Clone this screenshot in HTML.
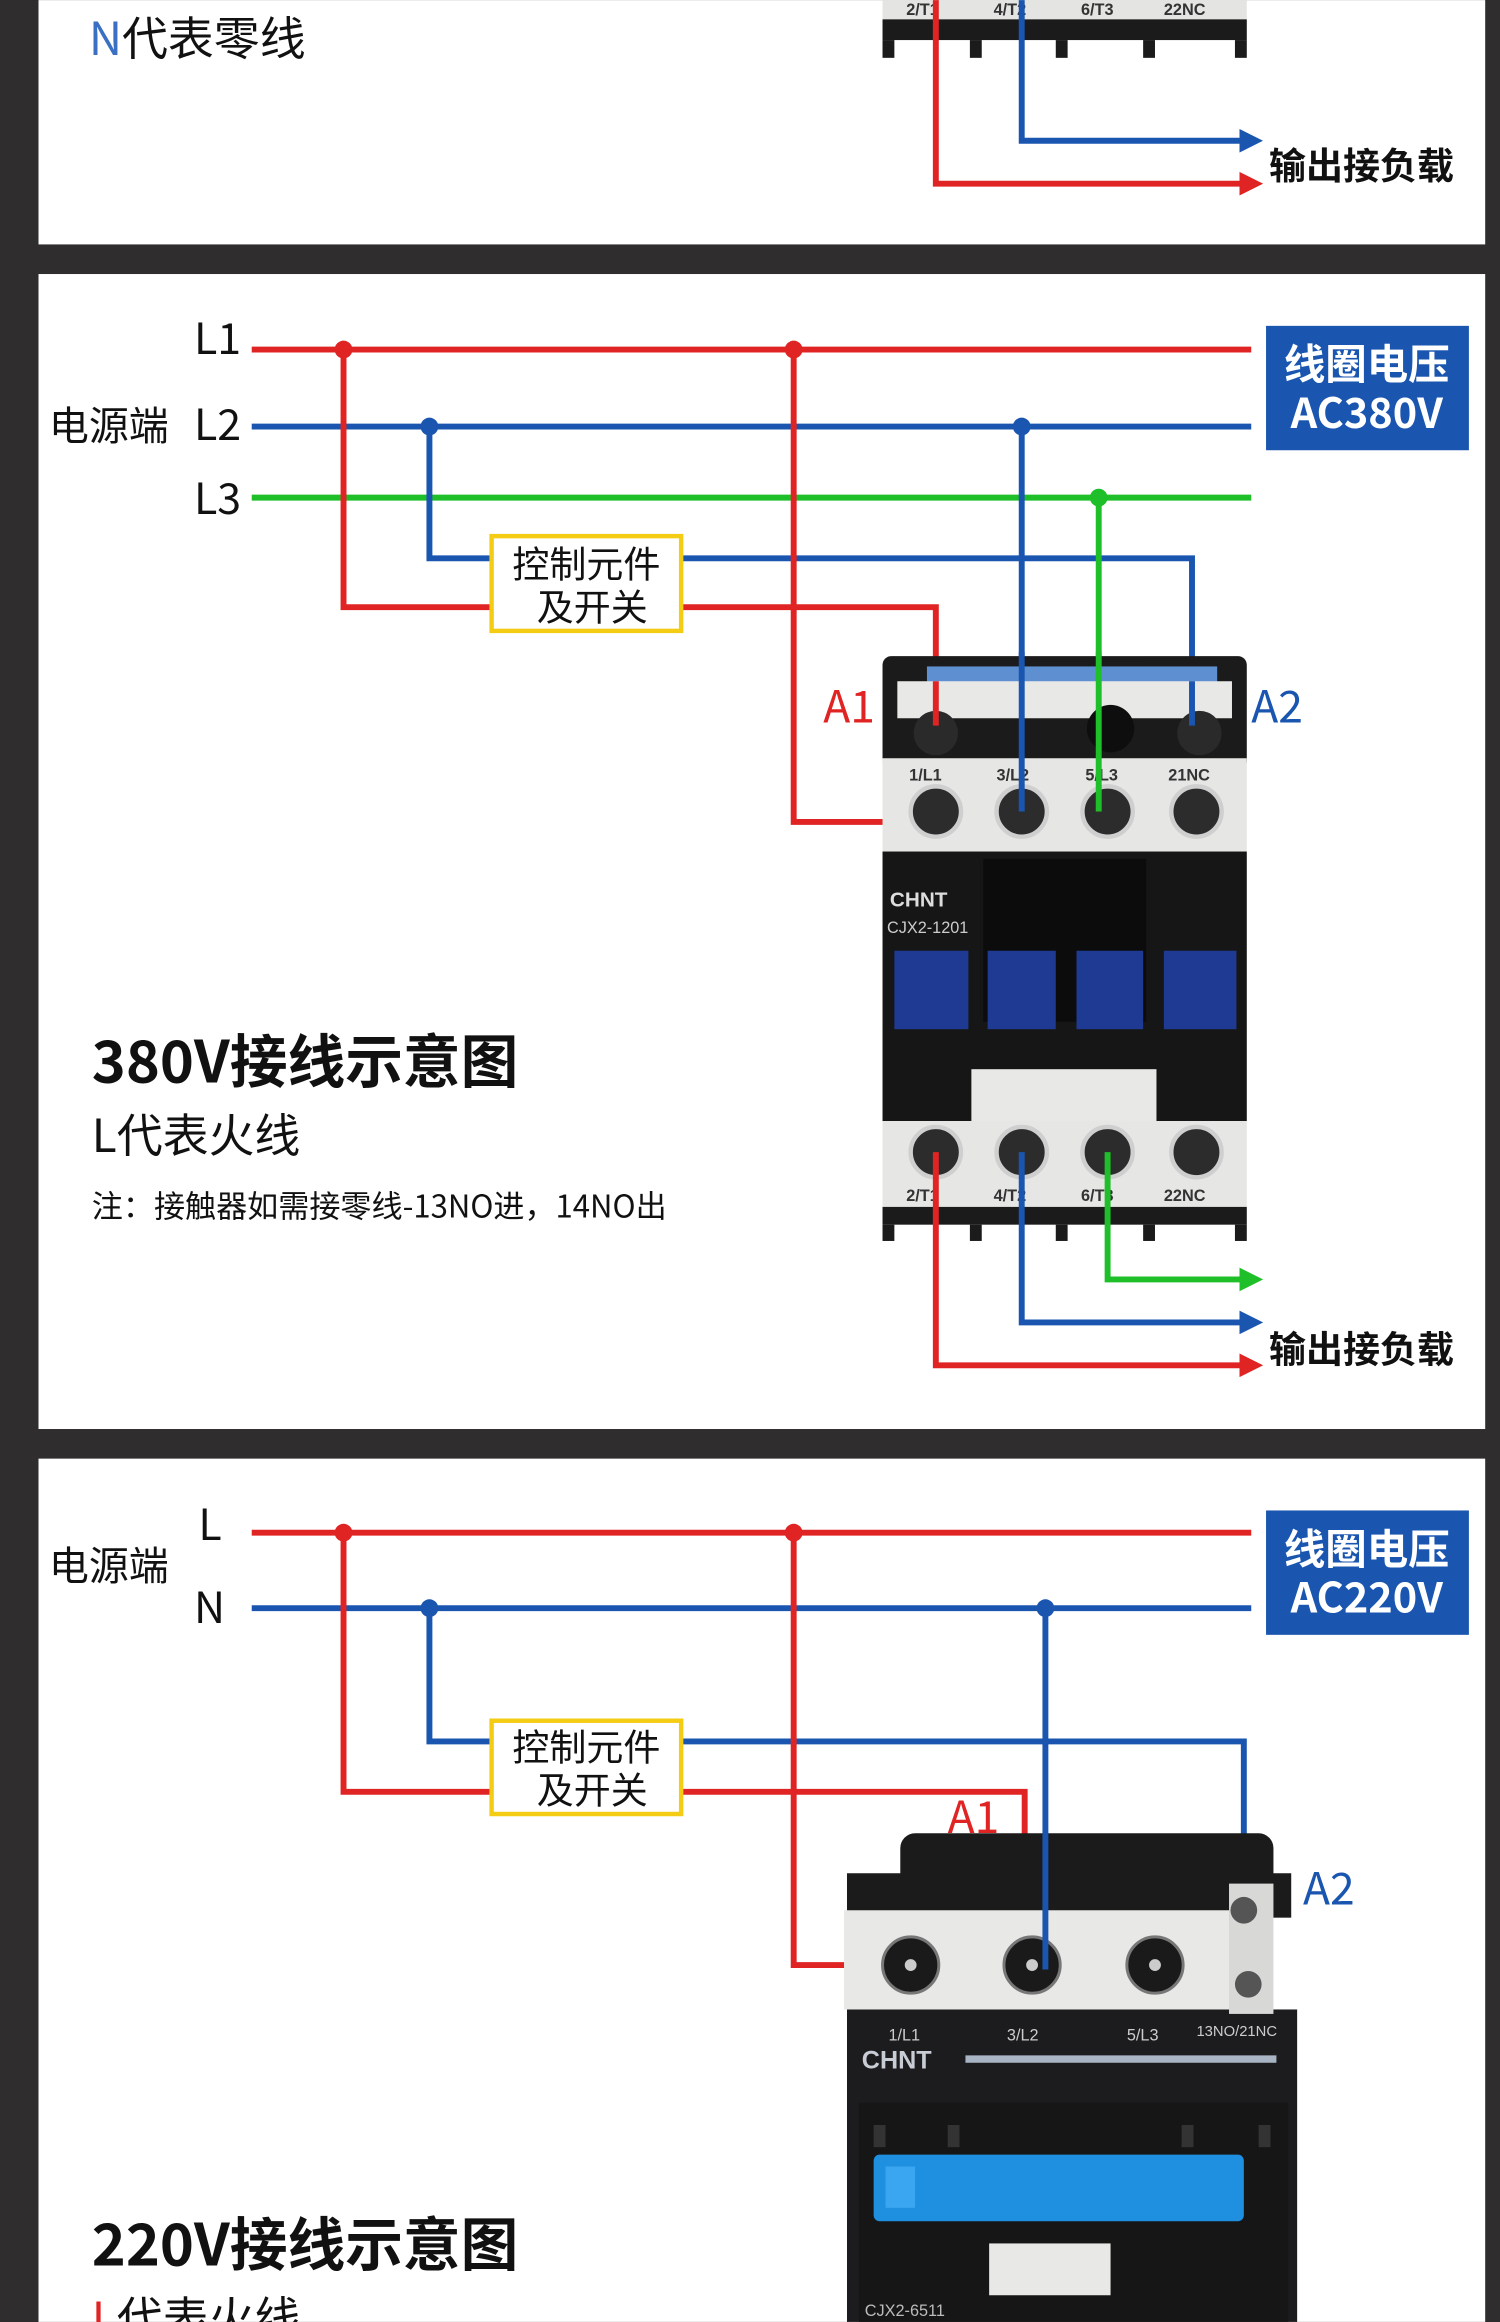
<!DOCTYPE html>
<html><head><meta charset="utf-8"><style>
html,body{margin:0;padding:0;background:#2f2d2d;}
svg{display:block;}
text{font-family:"Noto Sans CJK SC","Liberation Sans",sans-serif;}
.lat{font-family:"Liberation Sans","Noto Sans CJK SC",sans-serif;}
</style></head><body>
<svg width="1500" height="2322" viewBox="0 0 1013 1568" xmlns="http://www.w3.org/2000/svg">
<defs>
<marker id="ar" markerWidth="4" markerHeight="4" refX="2" refY="2" orient="auto" markerUnits="strokeWidth"><path d="M0,0 L4,2 L0,4z" fill="#e02424"/></marker>
<marker id="ab" markerWidth="4" markerHeight="4" refX="2" refY="2" orient="auto" markerUnits="strokeWidth"><path d="M0,0 L4,2 L0,4z" fill="#1a56b0"/></marker>
<marker id="ag" markerWidth="4" markerHeight="4" refX="2" refY="2" orient="auto" markerUnits="strokeWidth"><path d="M0,0 L4,2 L0,4z" fill="#1fbf2a"/></marker>
</defs>
<rect width="1013" height="1568" fill="#2f2d2d"/>
<rect x="26" y="0" width="977" height="165" fill="#fff"/>
<rect x="26" y="185" width="977" height="780" fill="#fff"/>
<rect x="26" y="985" width="977" height="583" fill="#fff"/>

<!-- panel 1 -->
<text x="60" y="37" font-size="31"><tspan fill="#3a6fc4">N</tspan><tspan fill="#111">代表零线</tspan></text>
<rect x="596" y="0" width="246" height="13" fill="#e4e4e2"/>
<text class="lat" x="612" y="10" font-size="11" font-weight="bold" fill="#333">2/T1</text>
<text class="lat" x="671" y="10" font-size="11" font-weight="bold" fill="#333">4/T2</text>
<text class="lat" x="730" y="10" font-size="11" font-weight="bold" fill="#333">6/T3</text>
<text class="lat" x="786" y="10" font-size="11" font-weight="bold" fill="#333">22NC</text>
<rect x="596" y="13" width="246" height="14" fill="#1b1b1b"/>
<rect x="596" y="27" width="8" height="12" fill="#1b1b1b"/><rect x="655" y="27" width="8" height="12" fill="#1b1b1b"/><rect x="713" y="27" width="8" height="12" fill="#1b1b1b"/><rect x="772" y="27" width="8" height="12" fill="#1b1b1b"/><rect x="834" y="27" width="8" height="12" fill="#1b1b1b"/>
<polyline points="632,0 632,124 845,124" fill="none" stroke="#e02424" stroke-width="4" marker-end="url(#ar)"/>
<polyline points="690,0 690,95 845,95" fill="none" stroke="#1a56b0" stroke-width="4" marker-end="url(#ab)"/>
<text x="857" y="121" font-size="25" font-weight="bold" fill="#111">输出接负载</text>

<!-- panel 2 -->
<text x="131" y="239" font-size="29" fill="#111">L1</text>
<text x="33" y="297" font-size="27" fill="#111">电源端</text>
<text x="131" y="297" font-size="29" fill="#111">L2</text>
<text x="131" y="347" font-size="29" fill="#111">L3</text>
<g fill="none" stroke-width="4">
<line x1="170" y1="236" x2="845" y2="236" stroke="#e02424"/>
<line x1="170" y1="288" x2="845" y2="288" stroke="#1a56b0"/>
<line x1="170" y1="336" x2="845" y2="336" stroke="#1fbf2a"/>
<polyline points="232,236 232,410 460,410 632,410 632,490" stroke="#e02424"/>
<polyline points="290,288 290,377 805,377 805,490" stroke="#1a56b0"/>
<polyline points="536,236 536,555 632,555" stroke="#e02424"/>
<polyline points="690,288 690,548" stroke="#1a56b0"/>
<polyline points="742,336 742,548" stroke="#1fbf2a"/>
</g>
<circle cx="232" cy="236" r="6" fill="#e02424"/><circle cx="536" cy="236" r="6" fill="#e02424"/>
<circle cx="290" cy="288" r="6" fill="#1a56b0"/><circle cx="690" cy="288" r="6" fill="#1a56b0"/>
<circle cx="742" cy="336" r="6" fill="#1fbf2a"/>
<rect x="332" y="362" width="128" height="64" fill="#fff" stroke="#f5cc14" stroke-width="3"/>
<text x="396" y="390" font-size="25" fill="#111" text-anchor="middle">控制元件</text>
<text x="400" y="419" font-size="25" fill="#111" text-anchor="middle">及开关</text>
<rect x="855" y="220" width="137" height="84" fill="#1a56b0"/>
<text x="923" y="256" font-size="28" font-weight="bold" fill="#fff" text-anchor="middle">线圈电压</text>
<text x="923" y="289" font-size="28" font-weight="bold" fill="#fff" text-anchor="middle">AC380V</text>
<!-- contactor 380 -->
<rect x="596" y="443" width="246" height="77" rx="6" fill="#1b1b1b"/>
<rect x="626" y="450" width="196" height="12" fill="#5e8fd0"/>
<rect x="606" y="460" width="226" height="25" fill="#e8e8e6"/>
<rect x="596" y="512" width="246" height="63" fill="#e6e6e4"/>
<circle cx="632" cy="495" r="15" fill="#2a2a2a"/><circle cx="750" cy="492" r="16" fill="#0e0e0e"/><circle cx="810" cy="495" r="15" fill="#2a2a2a"/>
<g fill="#2c2c2c" stroke="#cfcfcf" stroke-width="3">
<circle cx="632" cy="548" r="17"/><circle cx="690" cy="548" r="17"/><circle cx="748" cy="548" r="17"/><circle cx="808" cy="548" r="17"/>
</g>
<text class="lat" x="614" y="527" font-size="11" font-weight="bold" fill="#333">1/L1</text>
<text class="lat" x="673" y="527" font-size="11" font-weight="bold" fill="#333">3/L2</text>
<text class="lat" x="733" y="527" font-size="11" font-weight="bold" fill="#333">5/L3</text>
<text class="lat" x="789" y="527" font-size="11" font-weight="bold" fill="#333">21NC</text>
<polyline points="632,460 632,490" stroke="#e02424" stroke-width="4"/>
<polyline points="805,460 805,490" stroke="#1a56b0" stroke-width="4"/>
<polyline points="690,440 690,548" stroke="#1a56b0" stroke-width="4"/>
<polyline points="742,440 742,548" stroke="#1fbf2a" stroke-width="4"/>
<rect x="596" y="575" width="246" height="182" fill="#161616"/>
<rect x="664" y="580" width="110" height="110" fill="#0c0c0c"/>
<text class="lat" x="601" y="612" font-size="14" font-weight="bold" fill="#ddd">CHNT</text>
<text class="lat" x="599" y="630" font-size="11" fill="#ccc">CJX2-1201</text>
<rect x="604" y="642" width="50" height="53" fill="#1f3a93"/>
<rect x="667" y="642" width="46" height="53" fill="#1f3a93"/>
<rect x="727" y="642" width="45" height="53" fill="#1f3a93"/>
<rect x="786" y="642" width="49" height="53" fill="#1f3a93"/>
<rect x="656" y="722" width="125" height="43" fill="#e8e8e6"/>
<rect x="596" y="757" width="246" height="58" fill="#e6e6e4"/>
<g fill="#2c2c2c" stroke="#cfcfcf" stroke-width="3">
<circle cx="632" cy="778" r="17"/><circle cx="690" cy="778" r="17"/><circle cx="748" cy="778" r="17"/><circle cx="808" cy="778" r="17"/>
</g>
<text class="lat" x="612" y="811" font-size="11" font-weight="bold" fill="#333">2/T1</text>
<text class="lat" x="671" y="811" font-size="11" font-weight="bold" fill="#333">4/T2</text>
<text class="lat" x="730" y="811" font-size="11" font-weight="bold" fill="#333">6/T3</text>
<text class="lat" x="786" y="811" font-size="11" font-weight="bold" fill="#333">22NC</text>
<rect x="596" y="815" width="246" height="12" fill="#1b1b1b"/>
<rect x="596" y="827" width="8" height="11" fill="#1b1b1b"/><rect x="655" y="827" width="8" height="11" fill="#1b1b1b"/><rect x="713" y="827" width="8" height="11" fill="#1b1b1b"/><rect x="772" y="827" width="8" height="11" fill="#1b1b1b"/><rect x="834" y="827" width="8" height="11" fill="#1b1b1b"/>
<polyline points="748,778 748,864 845,864" fill="none" stroke="#1fbf2a" stroke-width="4" marker-end="url(#ag)"/>
<polyline points="690,778 690,893 845,893" fill="none" stroke="#1a56b0" stroke-width="4" marker-end="url(#ab)"/>
<polyline points="632,778 632,922 845,922" fill="none" stroke="#e02424" stroke-width="4" marker-end="url(#ar)"/>
<text x="857" y="920" font-size="25" font-weight="bold" fill="#111">输出接负载</text>
<text x="556" y="488" font-size="30" fill="#e02424">A1</text>
<text x="845" y="488" font-size="30" fill="#1a56b0">A2</text>
<text x="62" y="731" font-size="39" font-weight="bold" fill="#111">380V接线示意图</text>
<text x="62" y="778" font-size="31" fill="#111">L代表火线</text>
<text x="62" y="822" font-size="21" fill="#111">注：接触器如需接零线-13NO进，14NO出</text>

<!-- panel 3 -->
<text x="134" y="1040" font-size="29" fill="#111">L</text>
<text x="33" y="1067" font-size="27" fill="#111">电源端</text>
<text x="131" y="1096" font-size="29" fill="#111">N</text>
<g fill="none" stroke-width="4">
<line x1="170" y1="1035" x2="845" y2="1035" stroke="#e02424"/>
<line x1="170" y1="1086" x2="845" y2="1086" stroke="#1a56b0"/>
<polyline points="232,1035 232,1210 692,1210 692,1283" stroke="#e02424"/>
<polyline points="290,1086 290,1176 840,1176 840,1285" stroke="#1a56b0"/>
<polyline points="536,1035 536,1327 617,1327" stroke="#e02424"/>
</g>
<rect x="332" y="1162" width="128" height="63" fill="#fff" stroke="#f5cc14" stroke-width="3"/>
<text x="396" y="1189" font-size="25" fill="#111" text-anchor="middle">控制元件</text>
<text x="400" y="1218" font-size="25" fill="#111" text-anchor="middle">及开关</text>
<rect x="855" y="1020" width="137" height="84" fill="#1a56b0"/>
<text x="923" y="1056" font-size="28" font-weight="bold" fill="#fff" text-anchor="middle">线圈电压</text>
<text x="923" y="1089" font-size="28" font-weight="bold" fill="#fff" text-anchor="middle">AC220V</text>
<!-- contactor 220 -->
<rect x="608" y="1238" width="252" height="60" rx="10" fill="#1b1b1b"/>
<rect x="572" y="1265" width="300" height="30" fill="#1b1b1b"/>
<rect x="572" y="1357" width="304" height="211" fill="#1c1c1e"/>
<rect x="570" y="1290" width="260" height="67" fill="#e8e8e6"/>
<rect x="830" y="1272" width="30" height="88" fill="#d8d8d6"/>
<circle cx="840" cy="1290" r="9" fill="#555"/><circle cx="843" cy="1340" r="9" fill="#555"/>
<g fill="#1a1a1a" stroke="#777" stroke-width="2">
<circle cx="615" cy="1327" r="19"/><circle cx="697" cy="1327" r="19"/><circle cx="780" cy="1327" r="19"/>
</g>
<circle cx="615" cy="1327" r="4" fill="#ccc"/><circle cx="697" cy="1327" r="4" fill="#ccc"/><circle cx="780" cy="1327" r="4" fill="#ccc"/>
<polyline points="706,1086 706,1330" fill="none" stroke="#1a56b0" stroke-width="4"/>
<circle cx="232" cy="1035" r="6" fill="#e02424"/><circle cx="536" cy="1035" r="6" fill="#e02424"/>
<circle cx="290" cy="1086" r="6" fill="#1a56b0"/><circle cx="706" cy="1086" r="6" fill="#1a56b0"/>
<text class="lat" x="600" y="1378" font-size="11" fill="#ccc">1/L1</text>
<text class="lat" x="680" y="1378" font-size="11" fill="#ccc">3/L2</text>
<text class="lat" x="761" y="1378" font-size="11" fill="#ccc">5/L3</text>
<text class="lat" x="808" y="1375" font-size="10" fill="#ccc">13NO/21NC</text>
<text class="lat" x="582" y="1397" font-size="17" font-weight="bold" fill="#c8ccd4">CHNT</text>
<rect x="652" y="1388" width="210" height="5" fill="#a8b4c4"/>
<rect x="580" y="1420" width="290" height="148" fill="#161616"/>
<rect x="590" y="1435" width="8" height="15" fill="#333"/><rect x="640" y="1435" width="8" height="15" fill="#333"/><rect x="798" y="1435" width="8" height="15" fill="#333"/><rect x="850" y="1435" width="8" height="15" fill="#333"/>
<rect x="590" y="1455" width="250" height="45" rx="4" fill="#1f8fe0"/>
<rect x="598" y="1463" width="20" height="28" fill="#3aa5f0"/>
<rect x="668" y="1515" width="82" height="35" fill="#e8e8e6"/>
<text class="lat" x="584" y="1564" font-size="11" fill="#bbb">CJX2-6511</text>
<text x="640" y="1238" font-size="30" fill="#e02424">A1</text>
<text x="880" y="1286" font-size="30" fill="#1a56b0">A2</text>
<text x="62" y="1530" font-size="39" font-weight="bold" fill="#111">220V接线示意图</text>
<text x="62" y="1577" font-size="31"><tspan fill="#e02424">L</tspan><tspan fill="#111">代表火线</tspan></text>
</svg>
</body></html>
